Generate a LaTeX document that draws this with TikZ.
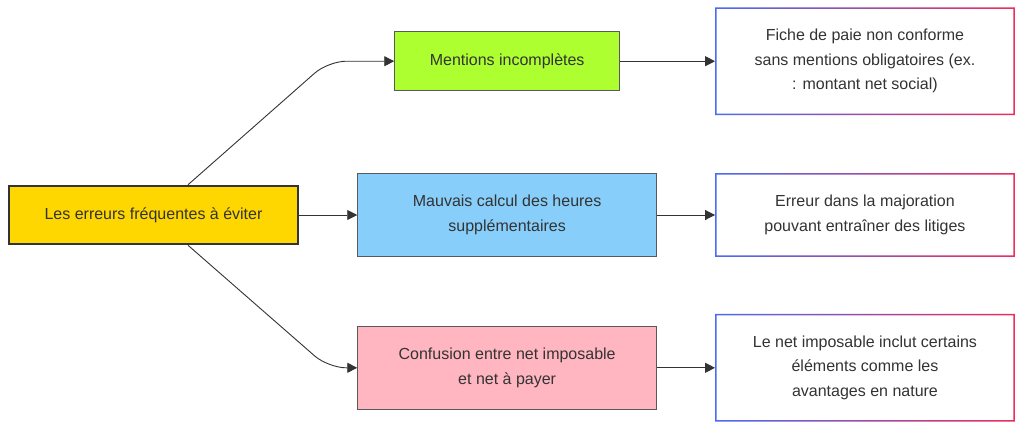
\documentclass[tikz,border=0pt]{standalone}
\usepackage{fontspec}
\setmainfont{Liberation Sans}
\usetikzlibrary{positioning,arrows.meta}
\definecolor{txt}{HTML}{333333}
\definecolor{rootfill}{HTML}{FFD700}
\definecolor{limefill}{HTML}{ADFF2F}
\definecolor{skyfill}{HTML}{87CEFA}
\definecolor{pinkfill}{HTML}{FFB6C1}
\definecolor{gradl}{HTML}{4A6CF0}
\definecolor{gradr}{HTML}{EE2D5E}
\begin{document}
\begin{tikzpicture}[x=1pt,y=-1pt,node distance=58pt,
  >={Triangle[length=10pt,width=10pt]},
  box/.style={draw=black!65,line width=0.8pt,align=center,text=txt,inner sep=0pt,
    font=\fontsize{16}{24.5}\selectfont},
  note/.style={box,draw=none,fill=white,minimum width=299pt}]
\useasboundingbox[fill=white] (0,0) rectangle (1024,432);
\node (A) [box,fill=rootfill,draw=txt,line width=2.5pt,minimum width=289pt,minimum height=58pt] at (153.5,215) {Les erreurs fréquentes à éviter};
\node (C) [box,fill=skyfill,minimum width=299pt,minimum height=83pt,right=of A] {Mauvais calcul des heures\\supplémentaires};
\node (B) [box,fill=limefill,minimum width=225pt,minimum height=59pt,above=82pt of C] {Mentions incomplètes};
\node (D) [box,fill=pinkfill,minimum width=299pt,minimum height=83pt,below=69pt of C] {Confusion entre net imposable\\et net à payer};
\node (F) [note,minimum height=107pt,right=95pt of B] {Fiche de paie non conforme\\sans mentions obligatoires (ex.\\: montant net social)};
\node (E) [note,minimum height=83pt,right=of C] {Erreur dans la majoration\\pouvant entraîner des litiges};
\node (G) [note,minimum height=107pt,right=of D] {Le net imposable inclut certains\\éléments comme les\\avantages en nature};
% gradient frames
\foreach \n in {E,F,G}
  \shade[left color=gradl,right color=gradr,even odd rule] (\n.north west) rectangle (\n.south east)
    ([shift={(1.5pt,-1.5pt)}]\n.north west) rectangle ([shift={(-1.5pt,1.5pt)}]\n.south east);
\begin{scope}[draw=txt,line width=0.9pt]
\draw[->,rounded corners=18pt] ([xshift=34.5pt]A.north) -- ([xshift=-66pt]B.west) -- (B.west);
\draw[->,rounded corners=18pt] ([xshift=34.5pt]A.south) -- ([xshift=-29pt]D.west) -- (D.west);
\path[->] (A) edge (C)
          (B) edge (F)
          (C) edge (E)
          (D) edge (G);
\end{scope}
\end{tikzpicture}
\end{document}
